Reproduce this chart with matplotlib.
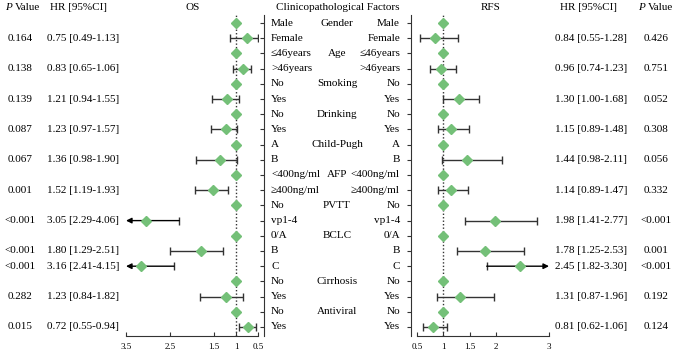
import numpy as np
import matplotlib.pyplot as plt
import matplotlib.transforms as mtransforms

plt.rcParams['font.family'] = ['Liberation Serif', 'DejaVu Serif']

# ---- data ----
groups = ['Gender', 'Age', 'Smoking', 'Drinking', 'Child-Pugh', 'AFP',
          'PVTT', 'BCLC', 'Cirrhosis', 'Antiviral']
levels = [['Male', 'Female'], ['≤46years', '>46years'], ['No', 'Yes'],
          ['No', 'Yes'], ['A', 'B'], ['<400ng/ml', '≥400ng/ml'],
          ['No', 'vp1-4'], ['0/A', 'B', 'C'], ['No', 'Yes'], ['No', 'Yes']]

# non-reference levels, top to bottom
os_hr = [0.75, 0.83, 1.21, 1.23, 1.36, 1.52, 3.05, 1.80, 3.16, 1.23, 0.72]
os_lo = [0.49, 0.65, 0.94, 0.97, 0.98, 1.19, 2.29, 1.29, 2.41, 0.84, 0.55]
os_hi = [1.13, 1.06, 1.55, 1.57, 1.90, 1.93, 4.06, 2.51, 4.15, 1.82, 0.94]
os_p = ['0.164', '0.138', '0.139', '0.087', '0.067', '0.001',
        '<0.001', '<0.001', '<0.001', '0.282', '0.015']

rfs_hr = [0.84, 0.96, 1.30, 1.15, 1.44, 1.14, 1.98, 1.78, 2.45, 1.31, 0.81]
rfs_lo = [0.55, 0.74, 1.00, 0.89, 0.98, 0.89, 1.41, 1.25, 1.82, 0.87, 0.62]
rfs_hi = [1.28, 1.23, 1.68, 1.48, 2.11, 1.47, 2.77, 2.53, 3.30, 1.96, 1.06]
rfs_p = ['0.426', '0.751', '0.052', '0.308', '0.056', '0.332',
         '<0.001', '0.001', '<0.001', '0.192', '0.124']

os_ticks = [3.5, 2.5, 1.5, 1, 0.5]
rfs_ticks = [0.5, 1, 1.5, 2, 3]

# row bookkeeping
rows = []      # (level label, group label or None, is reference)
for g, lv in zip(groups, levels):
    for j, l in enumerate(lv):
        rows.append((l, g if j == 0 else None, j == 0))
n = len(rows)
ref_rows = [i for i, r in enumerate(rows) if r[2]]
cmp_rows = [i for i, r in enumerate(rows) if not r[2]]

green = '#74c078'
dark = '#333333'
W, H = 681, 358
fig = plt.figure(figsize=(W / 100, H / 100), dpi=100)

bot = (H - 336) / H
hgt = (336 - 15) / H
ylim = ((336 - 23) / 15.2, -8 / 15.2)

ax_os = fig.add_axes([126 / W, bot, 132 / W, hgt])
ax_c = fig.add_axes([264 / W, bot, 147 / W, hgt])
ax_r = fig.add_axes([417 / W, bot, 132 / W, hgt])


def forest(ax, hr, lo, hi, xlim, ticks):
    ax.set_xlim(*xlim)
    ax.set_ylim(*ylim)
    xmax = max(xlim)
    ax.axvline(1, color=dark, ls=(0, (1, 1.5)), lw=1, zorder=1)
    # reference levels
    ax.plot([1] * len(ref_rows), ref_rows, 'D', color=green, ms=5.5, zorder=3)
    for k, y in enumerate(cmp_rows):
        if hi[k] > xmax:
            ax.plot([lo[k]], [y], marker='|', color=dark, ms=6, mew=1)
            ax.annotate('', xy=(xmax, y), xytext=(lo[k], y),
                        arrowprops=dict(arrowstyle='-|>', color='black', lw=1,
                                        mutation_scale=8, shrinkA=0, shrinkB=0))
        else:
            ax.errorbar([hr[k]], [y], xerr=[[hr[k] - lo[k]], [hi[k] - hr[k]]],
                        fmt='none', ecolor=dark, elinewidth=1, capsize=2.8,
                        capthick=1, zorder=2)
        ax.plot([hr[k]], [y], 'D', color=green, ms=5.5, zorder=3)
    for s in ['top', 'left', 'right']:
        ax.spines[s].set_visible(False)
    ax.spines['bottom'].set_color(dark)
    ax.set_yticks([])
    ax.set_xticks(ticks)
    ax.set_xticklabels([('%g' % t) for t in ticks])
    ax.tick_params(axis='x', direction='in', length=3, labelsize=6.5,
                   color=dark, pad=5)


forest(ax_os, os_hr, os_lo, os_hi, (3.5, 0.5), os_ticks)
forest(ax_r, rfs_hr, rfs_lo, rfs_hi, (0.5, 3), rfs_ticks)

# centre column: factor names
ax_c.set_xlim(0, 1)
ax_c.set_ylim(*ylim)
ax_c.set_xticks([])
ax_c.set_yticks(range(n))
ax_c.set_yticklabels([])
ax_c.tick_params(axis='y', direction='out', length=3, color=dark)
for s in ['top', 'bottom']:
    ax_c.spines[s].set_visible(False)
for s in ['left', 'right']:
    ax_c.spines[s].set_color(dark)
ax_c.patch.set_alpha(0)
tw = ax_c.twinx()
tw.set_ylim(*ylim)
tw.set_yticks(range(n))
tw.set_yticklabels([])
tw.tick_params(axis='y', direction='in', length=3, color=dark)
for s in ['top', 'bottom', 'left', 'right']:
    tw.spines[s].set_visible(False)

fs = 8
tr = mtransforms.blended_transform_factory(fig.transFigure, ax_os.transData)
for i, (lab, grp, ref) in enumerate(rows):
    fig.text(271 / W, i, lab, transform=tr, ha='left', va='center', fontsize=fs)
    fig.text(400 / W, i, lab, transform=tr, ha='right', va='center', fontsize=fs)
    if grp:
        fig.text(337 / W, i, grp, transform=tr, ha='center', va='center', fontsize=fs)

for k, y in enumerate(cmp_rows):
    fig.text(20 / W, y, os_p[k], transform=tr, ha='center', va='center', fontsize=fs)
    fig.text(47 / W, y, '%.2f [%.2f-%.2f]' % (os_hr[k], os_lo[k], os_hi[k]),
             transform=tr, ha='left', va='center', fontsize=fs)
    fig.text(555 / W, y, '%.2f [%.2f-%.2f]' % (rfs_hr[k], rfs_lo[k], rfs_hi[k]),
             transform=tr, ha='left', va='center', fontsize=fs)
    fig.text(656 / W, y, rfs_p[k], transform=tr, ha='center', va='center', fontsize=fs)

# headers
hy = 1 - 8 / H
fig.text(5 / W, hy, 'P', style='italic', ha='left', va='center', fontsize=fs)
fig.text(14.5 / W, hy, 'Value', ha='left', va='center', fontsize=fs)
fig.text(50 / W, hy, 'HR [95%CI]', ha='left', va='center', fontsize=fs)
fig.text(193 / W, hy, 'OS', ha='center', va='center', fontsize=fs)
fig.text(338 / W, hy, 'Clinicopathological Factors', ha='center', va='center', fontsize=fs)
fig.text(491 / W, hy, 'RFS', ha='center', va='center', fontsize=fs)
fig.text(588 / W, hy, 'HR [95%CI]', ha='center', va='center', fontsize=fs)
fig.text(638 / W, hy, 'P', style='italic', ha='left', va='center', fontsize=fs)
fig.text(647.5 / W, hy, 'Value', ha='left', va='center', fontsize=fs)

fig.savefig('out.png', dpi=100)
